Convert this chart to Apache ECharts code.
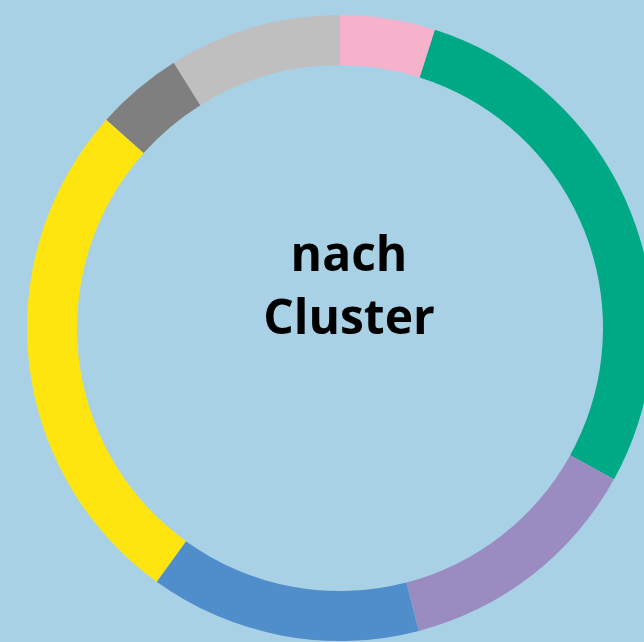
<!DOCTYPE html>
<html>
<head>
<meta charset="utf-8">
<script src="https://cdn.jsdelivr.net/npm/echarts@6/dist/echarts.min.js"></script>
<style>
html, body { margin: 0; padding: 0; background: #a9d1e5; }
#mainChart { width: 644px; height: 642px; }
</style>
</head>
<body>
<div id="mainChart"></div>
<script>
// Anteile je Cluster (in %), im Uhrzeigersinn ab 12 Uhr
var categories = ['Cluster 1', 'Cluster 2', 'Cluster 3', 'Cluster 4', 'Cluster 5', 'Cluster 6', 'Cluster 7'];
var values = [4.9, 28.1, 12.9, 14.0, 26.6, 4.5, 8.9];
var colors = ['#f7b2cb', '#00a985', '#9a8cc1', '#4f8ecb', '#ffe510', '#7f7f7f', '#bfbfbf'];

var myChart = echarts.init(document.getElementById('mainChart'));

function formatData() {
	var serData = [];
	for (var i = 0; i < categories.length; i++) {
		serData.push({
			name : categories[i],
			value : values[i],
			itemStyle : { color : colors[i] }
		});
	}
	return serData;
}

var option = {
	backgroundColor : '#a9d1e5',
	animation : false,
	graphic : [ {
		type : 'text',
		x : 349,
		y : 289,
		style : {
			text : 'nach\nCluster',
			fontFamily : 'Open Sans',
			fontWeight : 'bold',
			fontSize : 48,
			lineHeight : 63,
			fill : '#000',
			align : 'center',
			verticalAlign : 'middle'
		}
	} ],
	series : [ {
		name : 'Cluster',
		type : 'pie',
		radius : [ 263, 313 ],
		center : [ 340, 328 ],
		startAngle : 90,
		clockwise : true,
		label : { show : false },
		labelLine : { show : false },
		emphasis : { disabled : true },
		itemStyle : { borderWidth : 0 },
		data : formatData()
	} ]
};
myChart.setOption(option, true);
</script>
</body>
</html>
